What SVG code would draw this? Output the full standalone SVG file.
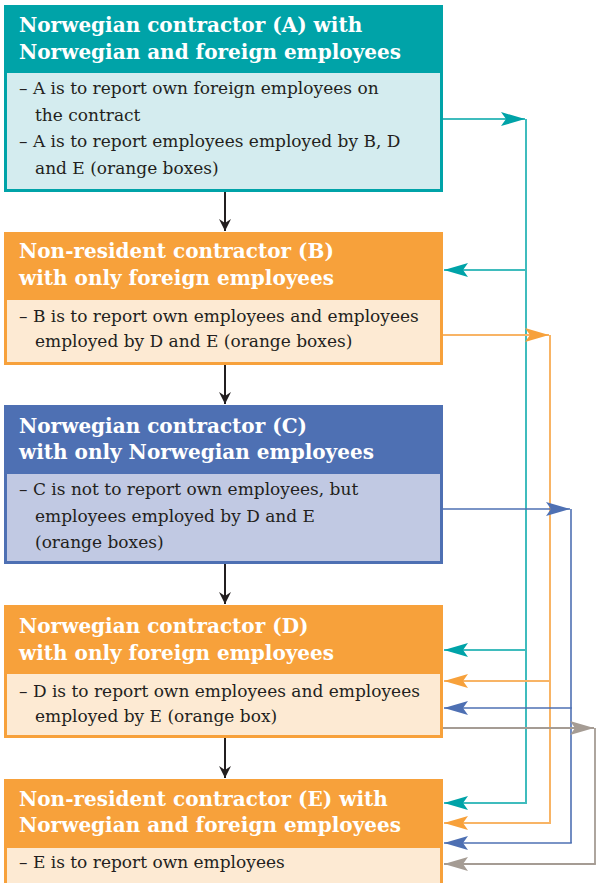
<svg xmlns="http://www.w3.org/2000/svg" width="597" height="883" viewBox="0 0 597 883">
<style>
.title{font-family:"DejaVu Serif","Liberation Serif",serif;font-weight:bold;font-size:20px;fill:#ffffff}
.body{font-family:"DejaVu Serif","Liberation Serif",serif;font-size:17px;fill:#231f20}
.flow{stroke:#231f20;stroke-width:2;fill:none}
.teal{stroke:#3fbcbd;stroke-width:2;fill:none}
.orange{stroke:#f8b465;stroke-width:2;fill:none}
.blue{stroke:#4e70b3;stroke-width:1.6;fill:none}
.gray{stroke:#a59c94;stroke-width:1.8;fill:none}
</style>
<defs>
<marker id="mBlack" markerUnits="userSpaceOnUse" markerWidth="14" markerHeight="14" refX="0" refY="0" orient="auto" overflow="visible"><path d="M0,0 L-12,-6 L-8,0 L-12,6 Z" fill="#231f20"/></marker>
<marker id="mTeal" markerUnits="userSpaceOnUse" markerWidth="26" markerHeight="16" refX="0" refY="0" orient="auto" overflow="visible"><path d="M0,0 L-24,-7 L-19,0 L-24,7 Z" fill="#00a3a8"/></marker>
<marker id="mOrange" markerUnits="userSpaceOnUse" markerWidth="26" markerHeight="16" refX="0" refY="0" orient="auto" overflow="visible"><path d="M0,0 L-24,-7 L-19,0 L-24,7 Z" fill="#f7a13b"/></marker>
<marker id="mBlue" markerUnits="userSpaceOnUse" markerWidth="26" markerHeight="16" refX="0" refY="0" orient="auto" overflow="visible"><path d="M0,0 L-24,-7 L-19,0 L-24,7 Z" fill="#4e70b3"/></marker>
<marker id="mGray" markerUnits="userSpaceOnUse" markerWidth="26" markerHeight="16" refX="0" refY="0" orient="auto" overflow="visible"><path d="M0,0 L-24,-7 L-19,0 L-24,7 Z" fill="#a59c94"/></marker>
</defs>
<rect width="597" height="883" fill="#ffffff"/>

<g id="nodeA">
<rect x="4" y="5" width="439" height="187" fill="#00a3a8"/>
<rect x="7" y="73" width="433" height="116" fill="#d4ecef"/>
<text class="title" x="19" y="32">Norwegian contractor (A) with</text>
<text class="title" x="19" y="59">Norwegian and foreign employees</text>
<text class="body" x="19" y="94">– A is to report own foreign employees on</text>
<text class="body" x="35" y="121">the contract</text>
<text class="body" x="19" y="147">– A is to report employees employed by B, D</text>
<text class="body" x="35" y="174">and E (orange boxes)</text>
</g>

<g id="nodeB">
<rect x="4" y="232" width="439" height="133" fill="#f7a13b"/>
<rect x="7" y="300" width="433" height="62" fill="#fdead3"/>
<text class="title" x="19" y="258">Non-resident contractor (B)</text>
<text class="title" x="19" y="285">with only foreign employees</text>
<text class="body" x="19" y="322">– B is to report own employees and employees</text>
<text class="body" x="35" y="347">employed by D and E (orange boxes)</text>
</g>

<g id="nodeC">
<rect x="4" y="405" width="439" height="159" fill="#4e70b3"/>
<rect x="7" y="474" width="433" height="87" fill="#c1c9e3"/>
<text class="title" x="19" y="433">Norwegian contractor (C)</text>
<text class="title" x="19" y="459">with only Norwegian employees</text>
<text class="body" x="19" y="495">– C is not to report own employees, but</text>
<text class="body" x="35" y="522">employees employed by D and E</text>
<text class="body" x="35" y="548">(orange boxes)</text>
</g>

<g id="nodeD">
<rect x="4" y="605" width="439" height="133" fill="#f7a13b"/>
<rect x="7" y="674" width="433" height="61" fill="#fdead3"/>
<text class="title" x="19" y="633">Norwegian contractor (D)</text>
<text class="title" x="19" y="660">with only foreign employees</text>
<text class="body" x="19" y="697">– D is to report own employees and employees</text>
<text class="body" x="35" y="722">employed by E (orange box)</text>
</g>

<g id="nodeE">
<rect x="4" y="779" width="439" height="110" fill="#f7a13b"/>
<rect x="7" y="848" width="433" height="40" fill="#fdead3"/>
<text class="title" x="19" y="806">Non-resident contractor (E) with</text>
<text class="title" x="19" y="832">Norwegian and foreign employees</text>
<text class="body" x="19" y="868">– E is to report own employees</text>
</g>

<g id="connectors">
<path class="flow" d="M225,192 V231" marker-end="url(#mBlack)"/>
<path class="flow" d="M225,365 V404" marker-end="url(#mBlack)"/>
<path class="flow" d="M225,564 V604" marker-end="url(#mBlack)"/>
<path class="flow" d="M225,738 V778" marker-end="url(#mBlack)"/>

<path class="teal" d="M443,119 H525" marker-end="url(#mTeal)"/>
<path class="teal" d="M526,119 V803"/>
<path class="teal" d="M527,270 H444" marker-end="url(#mTeal)"/>
<path class="teal" d="M527,650 H444" marker-end="url(#mTeal)"/>
<path class="teal" d="M527,803 H444" marker-end="url(#mTeal)"/>

<path class="orange" d="M443,335 H549" marker-end="url(#mOrange)"/>
<path class="orange" d="M550,335 V823"/>
<path class="orange" d="M551,681 H444" marker-end="url(#mOrange)"/>
<path class="orange" d="M551,823 H444" marker-end="url(#mOrange)"/>

<path class="blue" d="M443,509 H570" marker-end="url(#mBlue)"/>
<path class="blue" d="M571,509 V843"/>
<path class="blue" d="M571.8,708 H444" marker-end="url(#mBlue)"/>
<path class="blue" d="M571.8,843 H444" marker-end="url(#mBlue)"/>

<path class="gray" d="M443,728 H594" marker-end="url(#mGray)"/>
<path class="gray" d="M595,728 V864"/>
<path class="gray" d="M595.9,864 H444" marker-end="url(#mGray)"/>
</g>
</svg>
